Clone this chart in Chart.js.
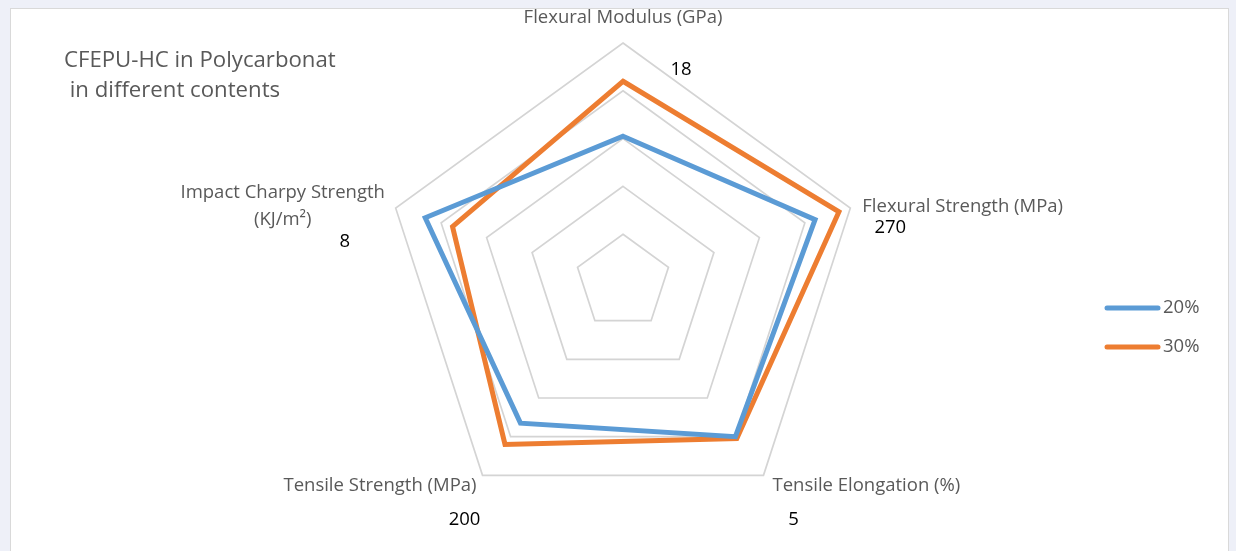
<!DOCTYPE html>
<html>
<head>
<meta charset="utf-8">
<script src="https://cdn.jsdelivr.net/npm/chart.js@4"></script>
<style>
  html, body { margin: 0; padding: 0; background: #eef0f8; overflow: hidden; }
  #panel {
    position: absolute; left: 10px; top: 8px; width: 1217px; height: 560px;
    background: #ffffff; border: 1px solid #d9d9d9;
  }
  #chart { position: absolute; left: 0; top: 0; }
</style>
</head>
<body>
<div id="panel"></div>
<canvas id="chart" width="1236" height="551"></canvas>
<script>
// Axis names (spokes), clockwise from the top
const axisLabels = [
  ['Flexural Modulus (GPa)'],
  ['Flexural Strength (MPa)'],
  ['Tensile Elongation (%)'],
  ['Tensile Strength (MPa)'],
  ['Impact Charpy Strength', '(KJ/m\u00B2)']
];
// Maximum of each axis, shown as black numbers next to the outer ring
const axisMax = ['18', '270', '5', '200', '8'];

// Values as a fraction of the axis maximum
const content20 = [0.61, 0.845, 0.80, 0.73, 0.87];
const content30 = [0.84, 0.95, 0.81, 0.84, 0.75];

const seriesNames = ['20%', '30%'];
const seriesColors = ['#5b9bd5', '#ed7d31'];

const gray = '#595959';
const fontFamily = '"Open Sans", "Noto Sans", sans-serif';

// Draws title, axis names, axis maxima and the legend
const textPlugin = {
  id: 'texts',
  afterDraw(chart) {
    const ctx = chart.ctx;
    const r = chart.scales.r;
    const R = r.drawingArea;
    const p = axisLabels.map((_, i) => r.getPointPosition(i, R));
    ctx.save();

    // title
    ctx.fillStyle = gray;
    ctx.font = '22.2px ' + fontFamily;
    ctx.textAlign = 'left';
    ctx.textBaseline = 'alphabetic';
    ctx.fillText('CFEPU-HC in Polycarbonat', 64, 67);
    ctx.fillText(' in different contents', 64, 97);

    // axis names
    ctx.font = '18.5px ' + fontFamily;
    ctx.textBaseline = 'middle';
    ctx.textAlign = 'center';
    ctx.fillText(axisLabels[0][0], p[0].x, p[0].y - 25);
    ctx.textAlign = 'left';
    ctx.fillText(axisLabels[1][0], p[1].x + 12, p[1].y - 1);
    ctx.fillText(axisLabels[2][0], p[2].x + 9, p[2].y + 10);
    ctx.textAlign = 'right';
    ctx.fillText(axisLabels[3][0], p[3].x - 6, p[3].y + 10);
    ctx.textAlign = 'center';
    ctx.fillText(axisLabels[4][0], p[4].x - 113, p[4].y - 15);
    ctx.fillText(axisLabels[4][1], p[4].x - 113, p[4].y + 12);

    // axis maxima
    ctx.fillStyle = '#000000';
    ctx.font = '18.5px ' + fontFamily;
    ctx.fillText(axisMax[0], p[0].x + 58, p[0].y + 27);
    ctx.fillText(axisMax[1], p[1].x + 40, p[1].y + 20);
    ctx.fillText(axisMax[2], p[2].x + 30, p[2].y + 44);
    ctx.fillText(axisMax[3], p[3].x - 18, p[3].y + 44);
    ctx.fillText(axisMax[4], p[4].x - 51, p[4].y + 34);

    // legend
    ctx.font = '18.5px ' + fontFamily;
    ctx.textAlign = 'left';
    ctx.lineCap = 'round';
    ctx.lineWidth = 5;
    seriesNames.forEach((name, i) => {
      const y = 308 + i * 39;
      ctx.strokeStyle = seriesColors[i];
      ctx.beginPath();
      ctx.moveTo(1107, y);
      ctx.lineTo(1158, y);
      ctx.stroke();
      ctx.fillStyle = gray;
      ctx.fillText(name, 1163, y);
    });
    ctx.restore();
  }
};

new Chart(document.getElementById('chart'), {
  type: 'radar',
  data: {
    labels: axisLabels,
    datasets: [{
      label: seriesNames[0],
      data: content20,
      borderColor: seriesColors[0],
      backgroundColor: seriesColors[0],
      borderWidth: 5,
      pointRadius: 0,
      fill: false
    }, {
      label: seriesNames[1],
      data: content30,
      borderColor: seriesColors[1],
      backgroundColor: seriesColors[1],
      borderWidth: 5,
      pointRadius: 0,
      fill: false
    }]
  },
  options: {
    responsive: false,
    animation: false,
    layout: {
      padding: { left: 384, right: 374, top: 43, bottom: 30 }
    },
    plugins: {
      legend: { display: false },
      tooltip: { enabled: false }
    },
    scales: {
      r: {
        min: 0,
        max: 1,
        ticks: { display: false, stepSize: 0.2 },
        pointLabels: { display: false },
        angleLines: { display: false },
        grid: { color: '#d4d4d4', lineWidth: 1.7 }
      }
    }
  },
  plugins: [textPlugin]
});
</script>
</body>
</html>
